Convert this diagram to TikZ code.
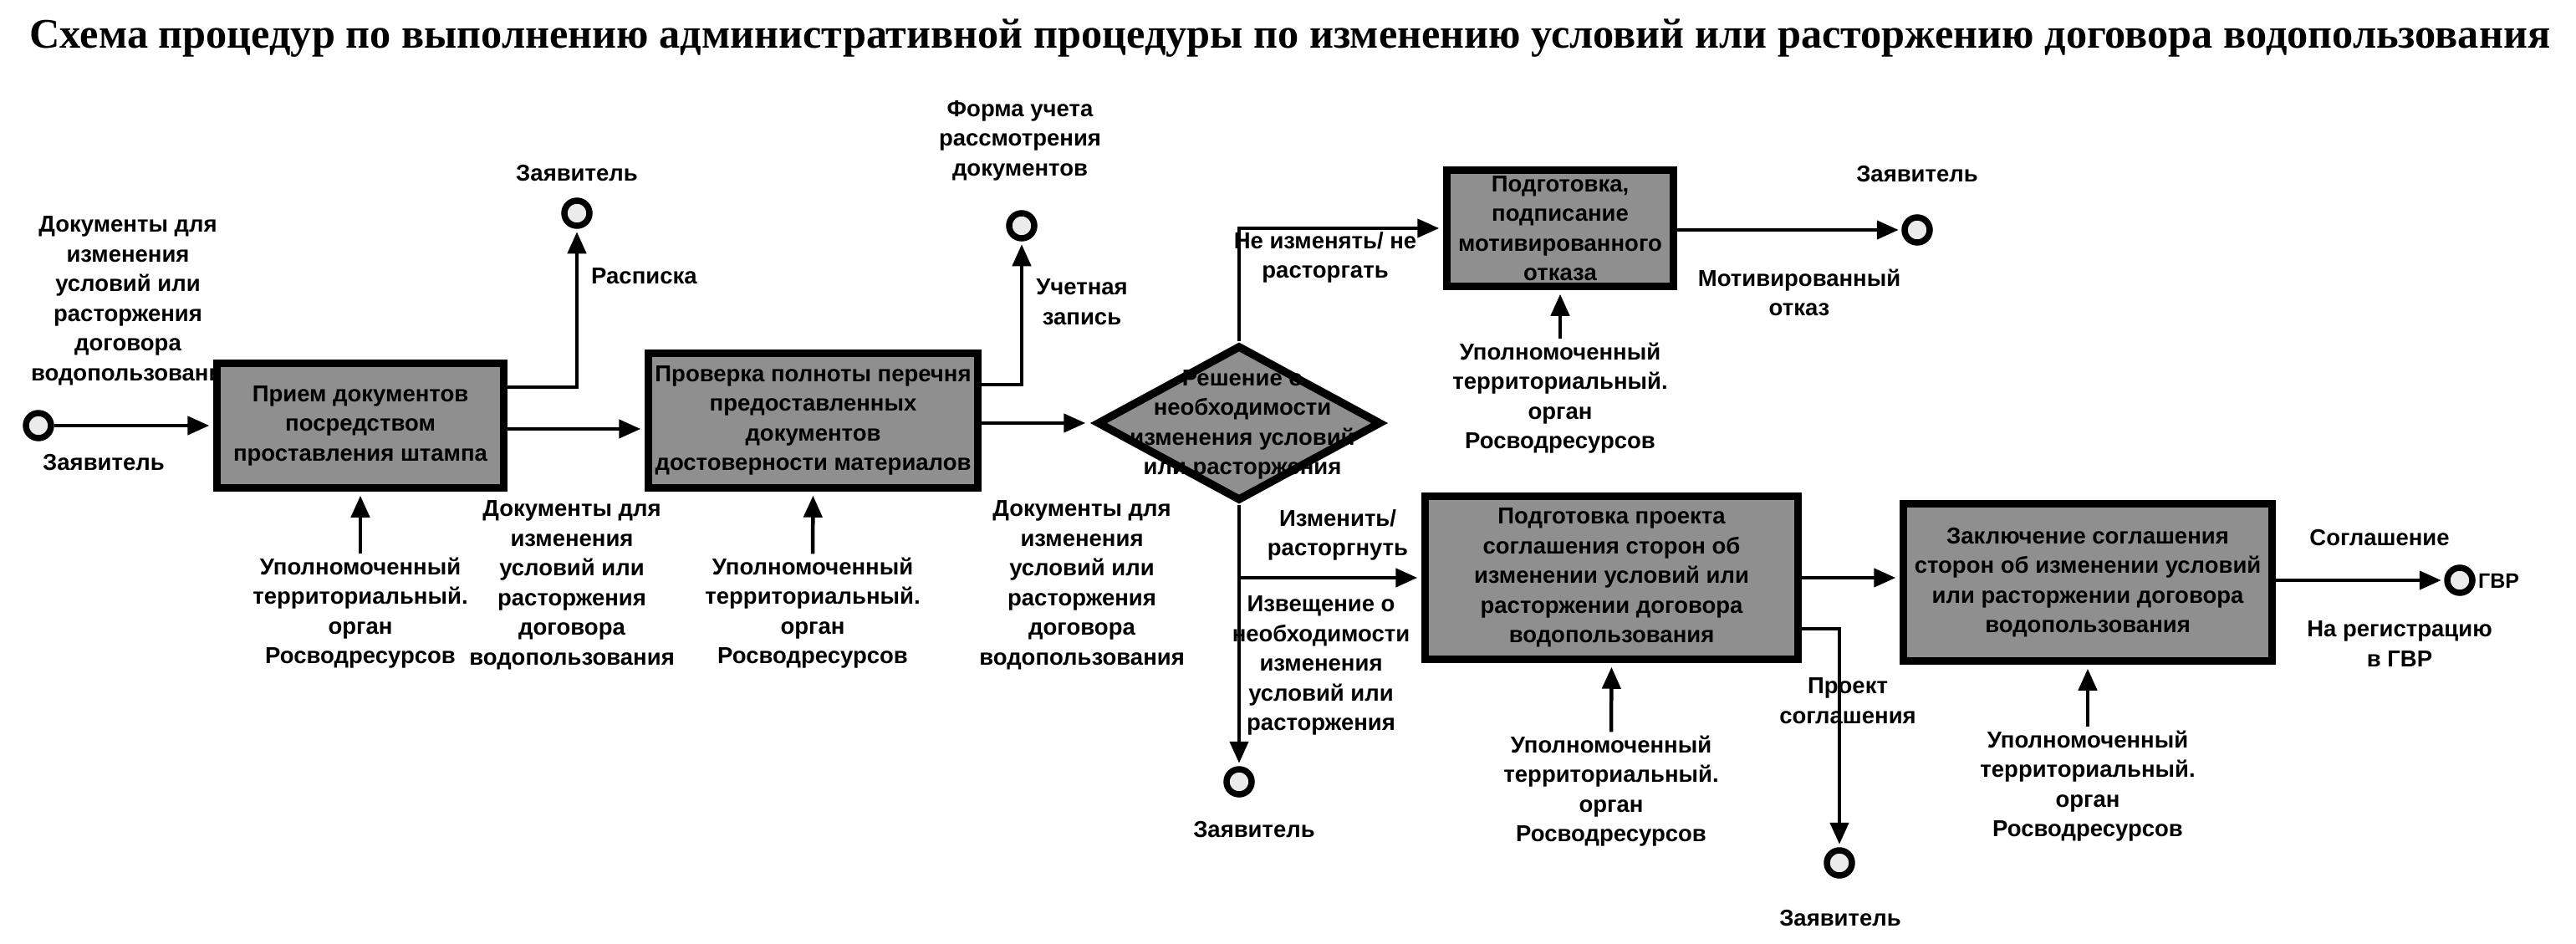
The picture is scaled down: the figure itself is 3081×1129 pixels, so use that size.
\documentclass[tikz,border=0pt]{standalone}
\usepackage{fontspec}
\setmainfont{Liberation Sans}
\newfontfamily\serifbold{Liberation Serif}
\usetikzlibrary{arrows.meta,shapes.geometric}
\newcommand\lblfont{\fontsize{27.5pt}{35.5pt}\selectfont\bfseries}
\newcommand\ttlfont{\serifbold\fontsize{50.3pt}{58pt}\selectfont\bfseries}
\newcommand\gvrfont{\fontsize{25pt}{30pt}\selectfont\bfseries}
\definecolor{boxgray}{gray}{0.56}
\definecolor{ringfill}{gray}{0.92}
\tikzset{
 proc/.style={draw=black, line width=9.5pt, fill=boxgray, align=center, font=\lblfont, inner sep=0pt},
 decis/.style={diamond, draw=black, line width=9.5pt, fill=boxgray, inner sep=0pt},
 term/.style={circle, draw=black, line width=7.5pt, fill=ringfill, minimum size=30pt, inner sep=0pt},
 lbl/.style={align=center, font=\lblfont, inner sep=0pt},
 conn/.style={line width=4.5pt, -{Triangle[length=26pt,width=22pt]}},
 tobox/.style={conn, shorten >=4.5pt},
 toring/.style={conn, shorten >=3.5pt},
}
\begin{document}
\begin{tikzpicture}[x=1pt,y=-1pt]
\useasboundingbox (0,0) rectangle (3081,1129);
\fill[white] (0,0) rectangle (3081,1129);

% title
\node[font=\ttlfont, inner sep=0pt] (title) at (1543,46) {Схема процедур по выполнению административной процедуры по изменению условий или расторжению договора водопользования};

% helper levels
\coordinate (h1) at (0,463);
\coordinate (h2) at (0,460);
\coordinate (h3) at (0,513);
\coordinate (h4) at (0,752);

% input label (partly under box 1)
\node[lbl] (inlbl) at (153,360) {Документы для\\изменения\\условий или\\расторжения\\договора\\\makebox[232pt][l]{водопользовани}};

% boxes
\node[proc, minimum width=343pt, minimum height=149pt] (b1) at (431,509) {Прием документов\\посредством\\проставления штампа};
\node[proc, minimum width=394pt, minimum height=161pt] (b2) at (972.5,503) {Проверка полноты перечня\\предоставленных\\документов\\достоверности материалов};
\node[decis, minimum width=340pt, minimum height=186pt] (dec) at (1482,506) {};
\node[lbl] (dectxt) at (1486,508) {Решение о\\необходимости\\изменения условий\\или расторжения};
\node[proc, minimum width=271pt, minimum height=139pt] (b3) at (1866,273) {Подготовка,\\подписание\\мотивированного\\отказа};
\node[proc, minimum width=446pt, minimum height=195pt] (b4) at (1927.5,691) {Подготовка проекта\\соглашения сторон об\\изменении условий или\\расторжении договора\\водопользования};
\node[proc, minimum width=441pt, minimum height=188pt] (b5) at (2497,696.5) {Заключение соглашения\\сторон об изменении условий\\или расторжении договора\\водопользования};

% terminals
\node[term] (c0) at (46,509) {};
\node[term] (c1) at (690,255) {};
\node[term] (c2) at (1222,270) {};
\node[term] (c3) at (2293,275) {};
\node[term] (c4) at (1482,935) {};
\node[term] (c5) at (2200,1032) {};
\node[term] (c6) at (2942,694) {};

% labels
\node[lbl] (z0) at (124,553) {Заявитель};
\node[lbl] (z1) at (690,207) {Заявитель};
\node[lbl, anchor=west] (rasp) at (707,330) {Расписка};
\node[lbl] (d12) at (684,700) {Документы для\\изменения\\условий или\\расторжения\\договора\\водопользования};
\node[lbl] (u1) at (431,733) {Уполномоченный\\территориальный.\\орган\\Росводресурсов};
\node[lbl] (u2) at (972,733) {Уполномоченный\\территориальный.\\орган\\Росводресурсов};
\node[lbl] (forma) at (1220,168) {Форма учета\\рассмотрения\\документов};
\node[lbl] (uchet) at (1294,361) {Учетная\\запись};
\node[lbl] (d2d) at (1294,700) {Документы для\\изменения\\условий или\\расторжения\\договора\\водопользования};
\node[lbl] (neizm) at (1585,308) {Не изменять/ не\\расторгать};
\node[lbl] (u3) at (1866,476) {Уполномоченный\\территориальный.\\орган\\Росводресурсов};
\node[lbl] (z3) at (2293,208) {Заявитель};
\node[lbl] (motiv) at (2152,350) {Мотивированный\\отказ};
\node[lbl] (izm) at (1600,640) {Изменить/\\расторгнуть};
\node[lbl] (izv) at (1580,796) {Извещение о\\необходимости\\изменения\\условий или\\расторжения};
\node[lbl] (z4) at (1500,992) {Заявитель};
\node[lbl] (u4) at (1927,946) {Уполномоченный\\территориальный.\\орган\\Росводресурсов};
\node[lbl] (proekt) at (2210,838) {Проект\\соглашения};
\node[lbl] (z5) at (2201,1098) {Заявитель};
\node[lbl] (u5) at (2497,940) {Уполномоченный\\территориальный.\\орган\\Росводресурсов};
\node[lbl] (sogl) at (2846,643) {Соглашение};
\node[lbl] (nareg) at (2870,770) {На регистрацию\\в ГВР};
\node[font=\gvrfont, inner sep=0pt, anchor=west] (gvr) at (2964,695) {ГВР};

% connectors
\draw[tobox] (c0.east) -- (b1.west |- c0);
\draw[toring] (b1.east |- h1) -| (c1.south);
\draw[tobox] (b1.east |- h3) -- (b2.west |- h3);
\draw[tobox] ([yshift=4pt]u1.north) -- (b1.south);
\draw[toring] (b2.east |- h2) -| (c2.south);
\draw[conn, shorten >=9pt] (b2.east |- dec.west) -- (dec.west);
\draw[tobox] ([yshift=4pt]u2.north) -- (b2.south);
\draw[tobox] (dec.north) |- (b3.west);
\draw[toring] (dec.south) -- (c4.north);
\draw[tobox] (dec.south |- b4.west) -- (b4.west);
\draw[tobox] ([yshift=4pt]u3.north) -- (b3.south);
\draw[toring] (b3.east |- c3) -- (c3.west);
\draw[tobox] ([yshift=4pt]u4.north) -- (b4.south);
\draw[tobox] (b4.east) -- (b5.west |- b4.east);
\draw[toring] (b4.east |- h4) -| (c5.north);
\draw[tobox] ([yshift=4pt]u5.north) -- (b5.south);
\draw[toring] (b5.east |- c6) -- (c6.west);
\end{tikzpicture}
\end{document}
